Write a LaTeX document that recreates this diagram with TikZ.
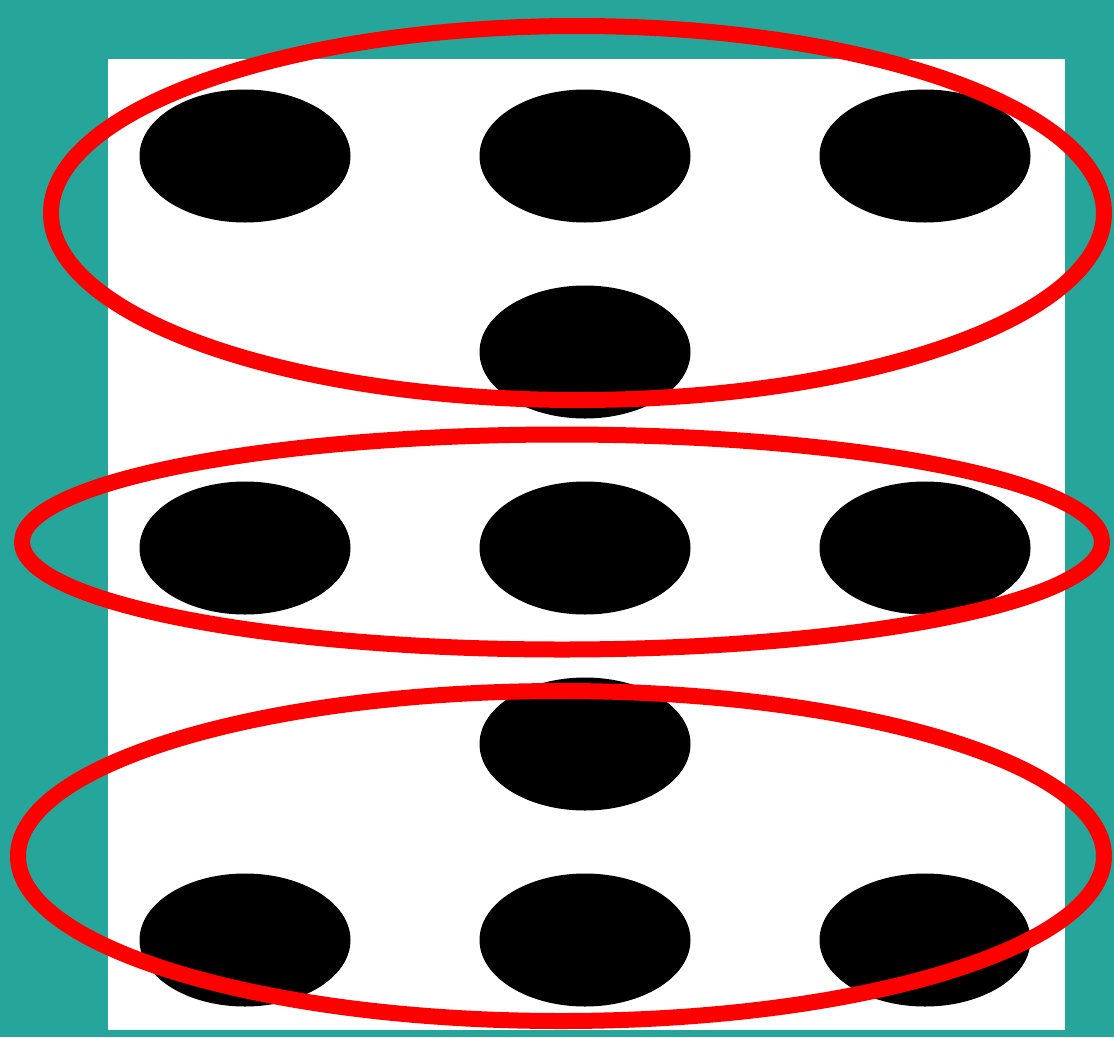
\documentclass[tikz,border=0pt]{standalone}
\usetikzlibrary{shapes.geometric}
\definecolor{tealbg}{HTML}{26A69A}
\definecolor{ringred}{HTML}{FF0000}
\tikzset{
  dot/.style={fill=black},
  ring/.style={draw=ringred, line width=16pt}
}
\begin{document}
\begin{tikzpicture}[x=1pt,y=-1pt]
\useasboundingbox (0,0) rectangle (1114,1037);
\fill[tealbg] (0,0) rectangle (1114,1037);
\fill[white] (108,59) rectangle (1065,1030);
% dots
\foreach \y in {156,548,940}{
  \foreach \x in {245,585,925}{
    \fill[dot] (\x,\y) ellipse [x radius=105.5, y radius=66.5];
  }
}
\fill[dot] (585,352) ellipse [x radius=105.5, y radius=66.5];
\fill[dot] (585,744) ellipse [x radius=105.5, y radius=66.5];
% rings
\draw[ring] (577.5,213) ellipse [x radius=526.5, y radius=187];
\draw[ring] (562,542) ellipse [x radius=540, y radius=107.5];
\draw[ring] (561,856) ellipse [x radius=543, y radius=165];
\end{tikzpicture}
\end{document}
